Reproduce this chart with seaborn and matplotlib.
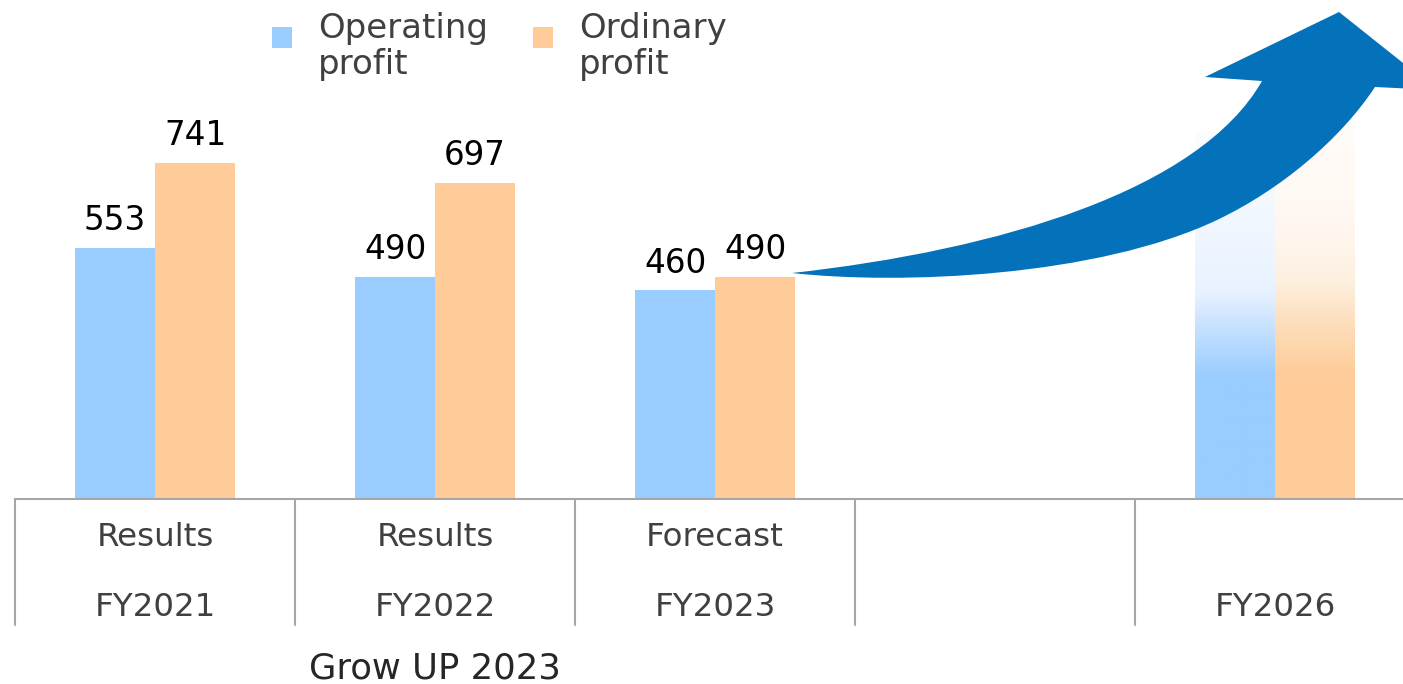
import numpy as np
import pandas as pd
import seaborn as sns
import matplotlib.pyplot as plt
import matplotlib.transforms as mtransforms
from matplotlib.path import Path
from matplotlib.patches import PathPatch, Rectangle
from matplotlib.legend_handler import HandlerPatch
from matplotlib.colors import LinearSegmentedColormap

# data (FY2026 target bars are faded, height estimated)
fiscal_years = ["FY2021", "FY2022", "FY2023", "FY2026"]
period_types = ["Results", "Results", "Forecast", ""]
operating_profit = [553, 490, 460, 810]
ordinary_profit = [741, 697, 490, 830]
series_names = ["Operating\nprofit", "Ordinary\nprofit"]
slot_order = ["FY2021", "FY2022", "FY2023", "blank", "FY2026"]
plan_name = "Grow UP 2023"

blue = "#99CCFF"
orange = "#FFCC99"
arrow_blue = "#0472BB"
grid_gray = "#A6A6A6"
text_gray = "#404040"

df = pd.DataFrame({
    "year": fiscal_years * 2,
    "series": [series_names[0]] * 4 + [series_names[1]] * 4,
    "value": operating_profit + ordinary_profit,
})

sns.set_theme(style="white")
plt.rcParams["font.family"] = ["DejaVu Sans"]

W, H = 1403, 684
fig = plt.figure(figsize=(W / 100, H / 100), dpi=100)
ax = fig.add_axes([15 / W, 185 / H, 1388 / W, 499 / H])

sns.barplot(data=df, x="year", y="value", hue="series", order=slot_order,
            hue_order=series_names, palette=[blue, orange], saturation=1,
            width=0.5714, gap=0, errorbar=None, linewidth=0, ax=ax)

ax.set_xticks([])
ax.set_yticks([])
ax.set_xlabel("")
ax.set_ylabel("")
for s in ["left", "right", "top"]:
    ax.spines[s].set_visible(False)
ax.spines["bottom"].set_color(grid_gray)
ax.spines["bottom"].set_linewidth(1.5)

# value labels + gradient for the target year
fade = {
    blue: LinearSegmentedColormap.from_list("fb", [(0, blue), (0.33, blue), (0.46, "#C4E0FF"),
                                                   (0.56, "#E8F2FF"), (0.75, "#F1F7FF"), (1, "#FBFDFF")]),
    orange: LinearSegmentedColormap.from_list("fo", [(0, orange), (0.33, orange), (0.46, "#FDDDBA"),
                                                     (0.58, "#FDF0E0"), (0.75, "#FFF8F2"), (1, "#FFFCF9")]),
}
for bar in list(ax.patches):
    h = bar.get_height()
    if h <= 0 or np.isnan(h):
        continue
    cx = bar.get_x() + bar.get_width() / 2
    slot = int(round(cx))
    if slot < 3:
        ax.annotate(f"{h:.0f}", (cx, h), xytext=(0, 7.5), textcoords="offset points",
                    ha="center", va="bottom", fontsize=23.5, color="black")
    else:
        fc = blue if bar.get_facecolor()[2] > 0.9 else orange
        grad = np.linspace(0, 1, 256).reshape(-1, 1)
        im = ax.imshow(grad, cmap=fade[fc], extent=[bar.get_x(), bar.get_x() + bar.get_width(), 0, h],
                       origin="lower", aspect="auto", zorder=bar.get_zorder())
        im.set_clip_path(bar)
        bar.set_facecolor("none")
ax.set_xlim(-0.5, 4.457)
ax.set_ylim(0, 1099)

# category table under the axis
trans = mtransforms.blended_transform_factory(ax.transData, ax.transAxes)
for b in [-0.5, 0.5, 1.5, 2.5, 3.5]:
    ax.plot([b, b], [0, -0.2525], transform=trans, color=grid_gray, lw=1.5, clip_on=False)
for i, year in enumerate(slot_order):
    if year == "blank":
        continue
    k = fiscal_years.index(year)
    ax.text(i, -0.078, period_types[k], transform=trans, ha="center", va="center",
            fontsize=23.4, color=text_gray)
    ax.text(i, -0.218, year, transform=trans, ha="center", va="center",
            fontsize=23.4, color=text_gray)
ax.text(1, -0.339, plan_name, transform=trans, ha="center", va="center",
        fontsize=25.5, color="#262626")


# legend: square sits level with the upper part of the two-line label
def raised_square(legend, orig_handle, xdescent, ydescent, width, height, fontsize):
    return Rectangle((-xdescent, -ydescent + 7), width, height)


sns.move_legend(ax, "upper left", bbox_to_anchor=(255 / W, 1 + 5 / H),
                bbox_transform=fig.transFigure, ncol=2, title=None, frameon=False,
                fontsize=24.5, handlelength=0.6, handleheight=0.6, handletextpad=0.76,
                columnspacing=1.3, borderpad=0, labelcolor=text_gray,
                handler_map={Rectangle: HandlerPatch(patch_func=raised_square)})
for t in ax.get_legend().get_texts():
    t.set_linespacing(1.1)


# growth arrow (decoration, in figure pixels)
def px(x, y):
    return (x / W, 1 - y / H)


verts = [px(792, 273),
         px(1000, 250), px(1200, 190), px(1262, 81),
         px(1205, 77), px(1339, 12), px(1437, 90), px(1375, 87),
         px(1340, 140), px(1280, 190), px(1217, 220),
         px(1097, 277), px(900, 285), px(792, 273),
         px(792, 273)]
codes = [Path.MOVETO,
         Path.CURVE4, Path.CURVE4, Path.CURVE4,
         Path.LINETO, Path.LINETO, Path.LINETO, Path.LINETO,
         Path.CURVE4, Path.CURVE4, Path.CURVE4,
         Path.CURVE4, Path.CURVE4, Path.CURVE4,
         Path.CLOSEPOLY]
arrow = PathPatch(Path(verts, codes), transform=fig.transFigure, facecolor=arrow_blue,
                  edgecolor="none", zorder=10, clip_on=False)
fig.patches.append(arrow)

fig.savefig("out.png", dpi=100)
